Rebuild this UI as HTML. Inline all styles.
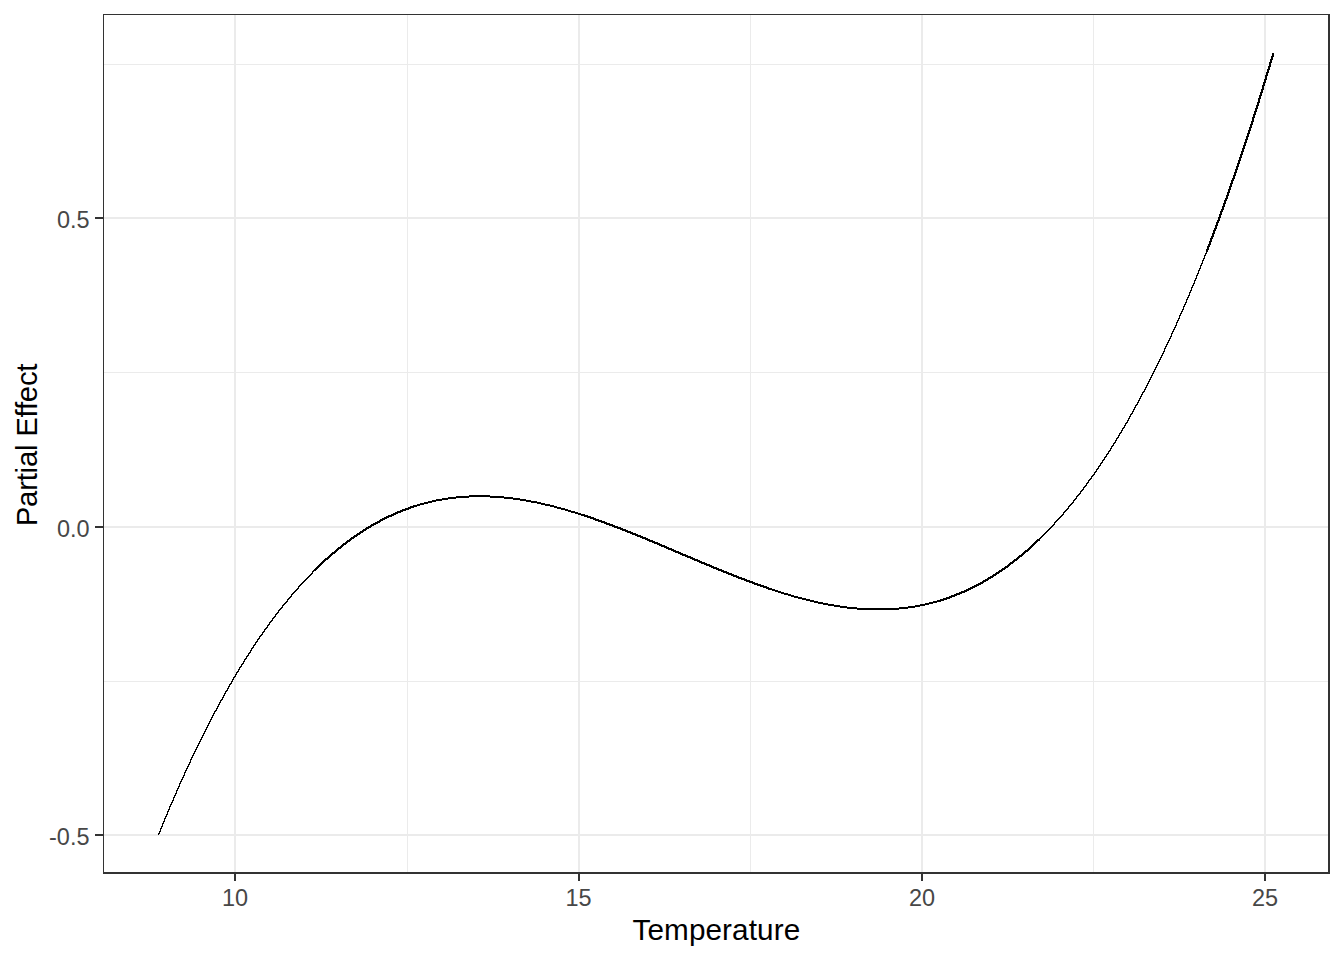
<!DOCTYPE html>
<html><head><meta charset="utf-8"><title>Partial Effect of Temperature</title>
<style>
html,body{margin:0;padding:0;background:#fff;}
body{width:1344px;height:960px;overflow:hidden;}
svg{display:block;font-family:"Liberation Sans",sans-serif;}
.ax{font-size:23.47px;fill:#474747;}
.tt{font-size:29.33px;fill:#000;}
.tx{font-size:29.7px;letter-spacing:0.1px;}
.ty{letter-spacing:-0.23px;}
</style></head><body>
<svg width="1344" height="960" viewBox="0 0 1344 960">
<rect width="1344" height="960" fill="#fff"/>
<g shape-rendering="crispEdges">
<rect x="407" y="15" width="1" height="857" fill="#ebebeb"/>
<rect x="750" y="15" width="1" height="857" fill="#ebebeb"/>
<rect x="1093" y="15" width="1" height="857" fill="#ebebeb"/>
<rect x="104" y="64" width="1224" height="1" fill="#ebebeb"/>
<rect x="104" y="372" width="1224" height="1" fill="#ebebeb"/>
<rect x="104" y="681" width="1224" height="1" fill="#ebebeb"/>
<rect x="234" y="15" width="2" height="857" fill="#ebebeb"/>
<rect x="578" y="15" width="2" height="857" fill="#ebebeb"/>
<rect x="921" y="15" width="2" height="857" fill="#ebebeb"/>
<rect x="1264" y="15" width="2" height="857" fill="#ebebeb"/>
<rect x="104" y="217" width="1224" height="2" fill="#ebebeb"/>
<rect x="104" y="526" width="1224" height="2" fill="#ebebeb"/>
<rect x="104" y="834" width="1224" height="2" fill="#ebebeb"/>
<path fill="#000" d="M157.90 834.44L169.05 807.47L170.05 808.47L158.90 835.44ZM169.05 807.47L180.20 781.87L181.20 782.87L170.05 808.47ZM180.20 781.87L191.35 757.61L192.35 758.61L181.20 782.87ZM191.35 757.61L202.50 734.64L203.50 735.64L192.35 758.61ZM202.50 734.64L213.65 712.95L214.65 713.95L203.50 735.64ZM213.65 712.95L224.80 692.49L225.80 693.49L214.65 713.95ZM224.80 692.49L235.95 673.25L236.95 674.25L225.80 693.49ZM235.95 673.25L247.10 655.19L248.10 656.19L236.95 674.25ZM247.10 655.19L258.25 638.28L259.25 639.28L248.10 656.19ZM258.25 638.28L269.40 622.49L270.40 623.49L259.25 639.28ZM269.40 622.49L280.55 607.80L281.55 608.80L270.40 623.49ZM280.55 607.80L291.70 594.16L292.70 595.16L281.55 608.80ZM291.70 594.16L302.85 581.56L303.85 582.56L292.70 595.16ZM302.85 581.56L314.00 569.95L315.00 570.95L303.85 582.56ZM314.00 569.45L325.15 558.82L326.15 560.82L315.00 571.45ZM325.15 558.82L336.30 549.13L337.30 551.13L326.15 560.82ZM336.30 549.13L347.45 540.35L348.45 542.35L337.30 551.13ZM347.45 540.35L358.60 532.45L359.60 534.45L348.45 542.35ZM358.60 532.45L369.75 525.41L370.75 527.41L359.60 534.45ZM369.75 525.41L380.90 519.18L381.90 521.18L370.75 527.41ZM380.90 519.18L392.05 513.75L393.05 515.75L381.90 521.18ZM392.05 513.75L403.20 509.08L404.20 511.08L393.05 515.75ZM403.20 509.08L414.35 505.14L415.35 507.14L404.20 511.08ZM414.85 505.14L426.00 501.91L426.00 503.91L414.85 507.14ZM426.00 501.91L437.15 499.35L437.15 501.35L426.00 503.91ZM437.15 499.35L448.30 497.43L448.30 499.43L437.15 501.35ZM448.30 497.43L459.45 496.13L459.45 498.13L448.30 499.43ZM459.45 496.13L470.60 495.41L470.60 497.41L459.45 498.13ZM470.60 495.41L481.75 495.25L481.75 497.25L470.60 497.41ZM481.75 495.25L492.90 495.61L492.90 497.61L481.75 497.25ZM492.90 495.61L504.05 496.46L504.05 498.46L492.90 497.61ZM504.05 496.46L515.20 497.78L515.20 499.78L504.05 498.46ZM515.20 497.78L526.35 499.54L526.35 501.54L515.20 499.78ZM526.35 499.54L537.50 501.70L537.50 503.70L526.35 501.54ZM537.50 501.70L548.65 504.24L548.65 506.24L537.50 503.70ZM548.65 504.24L559.80 507.12L559.80 509.12L548.65 506.24ZM559.80 507.12L570.95 510.33L570.95 512.33L559.80 509.12ZM570.95 510.33L582.10 513.82L582.10 515.82L570.95 512.33ZM582.60 513.82L593.75 517.56L592.75 519.56L581.60 515.82ZM593.75 517.56L604.90 521.54L603.90 523.54L592.75 519.56ZM604.90 521.54L616.05 525.71L615.05 527.71L603.90 523.54ZM616.05 525.71L627.20 530.06L626.20 532.06L615.05 527.71ZM627.20 530.06L638.35 534.54L637.35 536.54L626.20 532.06ZM638.35 534.54L649.50 539.14L648.50 541.14L637.35 536.54ZM649.50 539.14L660.65 543.81L659.65 545.81L648.50 541.14ZM660.65 543.81L671.80 548.53L670.80 550.53L659.65 545.81ZM671.80 548.53L682.95 553.28L681.95 555.28L670.80 550.53ZM682.95 553.28L694.10 558.02L693.10 560.02L681.95 555.28ZM694.10 558.02L705.25 562.71L704.25 564.71L693.10 560.02ZM705.25 562.71L716.40 567.34L715.40 569.34L704.25 564.71ZM716.40 567.34L727.55 571.88L726.55 573.88L715.40 569.34ZM727.55 571.88L738.70 576.28L737.70 578.28L726.55 573.88ZM738.70 576.28L749.85 580.53L748.85 582.53L737.70 578.28ZM749.85 580.53L761.00 584.59L760.00 586.59L748.85 582.53ZM761.00 584.59L772.15 588.44L771.15 590.44L760.00 586.59ZM771.65 588.44L782.80 592.04L782.80 594.04L771.65 590.44ZM782.80 592.04L793.95 595.36L793.95 597.36L782.80 594.04ZM793.95 595.36L805.10 598.38L805.10 600.38L793.95 597.36ZM805.10 598.38L816.25 601.06L816.25 603.06L805.10 600.38ZM816.25 601.06L827.40 603.38L827.40 605.38L816.25 603.06ZM827.40 603.38L838.55 605.30L838.55 607.30L827.40 605.38ZM838.55 605.30L849.70 606.80L849.70 608.80L838.55 607.30ZM849.70 606.80L860.85 607.84L860.85 609.84L849.70 608.80ZM860.85 607.84L872.00 608.40L872.00 610.40L860.85 609.84ZM872.00 608.40L883.15 608.45L883.15 610.45L872.00 610.40ZM883.15 608.45L894.30 607.95L894.30 609.95L883.15 610.45ZM894.30 607.95L905.45 606.88L905.45 608.88L894.30 609.95ZM905.45 606.88L916.60 605.20L916.60 607.20L905.45 608.88ZM916.60 605.20L927.75 602.89L927.75 604.89L916.60 607.20ZM927.75 602.89L938.90 599.91L938.90 601.91L927.75 604.89ZM938.40 599.91L949.55 596.25L950.55 598.25L939.40 601.91ZM949.55 596.25L960.70 591.85L961.70 593.85L950.55 598.25ZM960.70 591.85L971.85 586.71L972.85 588.71L961.70 593.85ZM971.85 586.71L983.00 580.78L984.00 582.78L972.85 588.71ZM983.00 580.78L994.15 574.03L995.15 576.03L984.00 582.78ZM994.15 574.03L1005.30 566.45L1006.30 568.45L995.15 576.03ZM1005.30 566.45L1016.45 557.98L1017.45 559.98L1006.30 568.45ZM1016.45 557.98L1027.60 548.62L1028.60 550.62L1017.45 559.98ZM1027.60 548.62L1038.75 538.32L1039.75 540.32L1028.60 550.62ZM1038.75 538.82L1049.90 527.55L1050.90 528.55L1039.75 539.82ZM1049.90 527.55L1061.05 515.29L1062.05 516.29L1050.90 528.55ZM1061.05 515.29L1072.20 502.00L1073.20 503.00L1062.05 516.29ZM1072.20 502.00L1083.35 487.66L1084.35 488.66L1073.20 503.00ZM1083.35 487.66L1094.50 472.23L1095.50 473.23L1084.35 488.66ZM1094.50 472.23L1105.65 455.68L1106.65 456.68L1095.50 473.23ZM1105.65 455.68L1116.80 437.98L1117.80 438.98L1106.65 456.68ZM1116.80 437.98L1127.95 419.11L1128.95 420.11L1117.80 438.98ZM1127.95 419.11L1139.10 399.03L1140.10 400.03L1128.95 420.11ZM1139.10 399.03L1150.25 377.71L1151.25 378.71L1140.10 400.03ZM1150.25 377.71L1161.40 355.12L1162.40 356.12L1151.25 378.71ZM1161.40 355.12L1172.55 331.23L1173.55 332.23L1162.40 356.12ZM1172.55 331.23L1183.70 306.01L1184.70 307.01L1173.55 332.23ZM1183.70 306.01L1194.85 279.43L1195.85 280.43L1184.70 307.01ZM1194.85 279.43L1206.00 251.45L1207.00 252.45L1195.85 280.43ZM1205.50 251.45L1216.65 222.06L1218.65 223.06L1207.50 252.45ZM1216.65 222.06L1227.80 191.20L1229.80 192.20L1218.65 223.06ZM1227.80 191.20L1238.95 158.86L1240.95 159.86L1229.80 192.20ZM1238.95 158.86L1250.10 125.01L1252.10 126.01L1240.95 159.86ZM1250.10 125.01L1261.25 89.61L1263.25 90.61L1252.10 126.01ZM1261.25 89.61L1272.40 52.63L1274.40 53.63L1263.25 90.61Z"/>
<rect x="103" y="14" width="1227" height="1" fill="#333333"/>
<rect x="103" y="14" width="1" height="860" fill="#333333"/>
<rect x="1328" y="14" width="2" height="860" fill="#333333"/>
<rect x="103" y="872" width="1227" height="2" fill="#333333"/>
<rect x="234" y="874" width="2" height="7" fill="#333333"/>
<rect x="578" y="874" width="2" height="7" fill="#333333"/>
<rect x="921" y="874" width="2" height="7" fill="#333333"/>
<rect x="1264" y="874" width="2" height="7" fill="#333333"/>
<rect x="95" y="217" width="8" height="2" fill="#333333"/>
<rect x="95" y="526" width="8" height="2" fill="#333333"/>
<rect x="95" y="834" width="8" height="2" fill="#333333"/>
</g>
<g class="ax" text-anchor="end">
<text x="89.5" y="228">0.5</text>
<text x="89.5" y="537">0.0</text>
<text x="89.5" y="845">-0.5</text>
</g>
<g class="ax" text-anchor="middle">
<text x="235" y="906">10</text>
<text x="578.5" y="906">15</text>
<text x="922" y="906">20</text>
<text x="1265" y="906">25</text>
</g>
<text class="tt tx" text-anchor="middle" x="716.4" y="940">Temperature</text>
<text class="tt ty" text-anchor="middle" transform="translate(37.1,445) rotate(-90)">Partial Effect</text>
</svg>
</body></html>
